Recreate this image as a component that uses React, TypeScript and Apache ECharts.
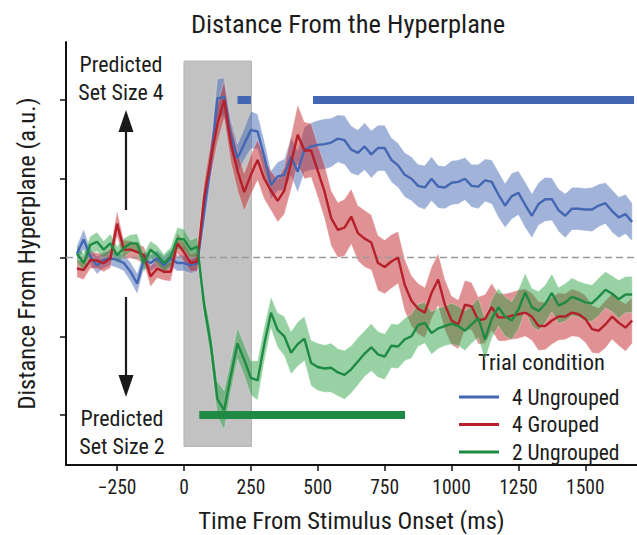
import React, { useEffect, useRef } from "react";
import * as echarts from "echarts";

// ---- data ----
const times = [
  -400, -375, -350, -325, -300, -275, -250, -225, -200, -175, -150, -125, -100, -75, -50, -25,
  0, 25, 50, 75, 100, 125, 150, 175, 200, 225, 250, 275, 300, 325, 350, 375,
  400, 425, 450, 475, 500, 525, 550, 575, 600, 625, 650, 675, 700, 725, 750, 775,
  800, 825, 850, 875, 900, 925, 950, 975, 1000, 1025, 1050, 1075, 1100, 1125, 1150, 1175,
  1200, 1225, 1250, 1275, 1300, 1325, 1350, 1375, 1400, 1425, 1450, 1475, 1500, 1525, 1550, 1575,
  1600, 1625, 1650, 1675,
];

const ungrouped4 = [
  0.05, 0.23, 0.01, -0.1, -0.03, -0.01, -0.03, -0.07, -0.18, -0.33, -0.03, -0.07, -0.01, -0.1, -0.01, -0.07,
  -0.07, -0.1, -0.07, 0.58, 1.2, 2.02, 2.04, 1.55, 1.26, 1.44, 1.62, 1.6, 1.28, 0.92, 1.03, 1.05,
  1.28, 1.09, 1.37, 1.41, 1.43, 1.44, 1.46, 1.51, 1.49, 1.37, 1.33, 1.41, 1.31, 1.39, 1.39, 1.24,
  1.17, 1.05, 1.0, 0.91, 0.89, 1.0, 0.9, 0.89, 0.95, 0.96, 1.0, 0.91, 0.9, 0.98, 0.96, 0.8,
  0.66, 0.78, 0.82, 0.67, 0.53, 0.68, 0.74, 0.74, 0.6, 0.53, 0.62, 0.62, 0.61, 0.61, 0.66, 0.69,
  0.59, 0.51, 0.55, 0.45,
];
const ungrouped4Err = [
  0.1, 0.13, 0.1, 0.11, 0.1, 0.09, 0.1, 0.1, 0.12, 0.13, 0.11, 0.1, 0.1, 0.11, 0.1, 0.1,
  0.1, 0.1, 0.11, 0.18, 0.22, 0.25, 0.24, 0.2, 0.18, 0.2, 0.24, 0.22, 0.2, 0.18, 0.18, 0.2,
  0.24, 0.26, 0.28, 0.3, 0.31, 0.32, 0.31, 0.3, 0.31, 0.3, 0.29, 0.3, 0.3, 0.29, 0.29, 0.28,
  0.28, 0.28, 0.28, 0.27, 0.28, 0.28, 0.27, 0.27, 0.28, 0.28, 0.27, 0.27, 0.28, 0.27, 0.28, 0.29,
  0.28, 0.29, 0.28, 0.29, 0.28, 0.27, 0.28, 0.27, 0.27, 0.28, 0.27, 0.27, 0.27, 0.28, 0.27, 0.26,
  0.27, 0.26, 0.25, 0.24,
];

const grouped4 = [
  -0.14, -0.16, -0.03, -0.04, -0.07, -0.01, 0.43, 0.1, 0.1, 0.07, 0.03, -0.24, -0.14, -0.18, -0.18, 0.18,
  0.07, -0.07, -0.05, 0.75, 1.25, 1.7, 2.0, 1.45, 1.1, 0.83, 1.05, 1.24, 1.0, 0.85, 0.72, 0.85,
  1.2, 1.56, 1.36, 1.36, 1.1, 0.84, 0.5, 0.35, 0.38, 0.52, 0.31, 0.24, 0.19, -0.07, -0.12, -0.05,
  0.0, -0.35, -0.55, -0.65, -0.7, -0.45, -0.28, -0.6, -0.8, -0.85, -0.6, -0.62, -0.8, -0.78, -0.63, -0.76,
  -0.76, -0.74, -0.72, -0.7, -0.75, -0.87, -0.87, -0.8, -0.75, -0.75, -0.7, -0.72, -0.78, -0.91, -0.93, -0.85,
  -0.75, -0.83, -0.89, -0.8,
];
const grouped4Err = [
  0.11, 0.12, 0.11, 0.1, 0.11, 0.12, 0.16, 0.12, 0.11, 0.1, 0.11, 0.13, 0.12, 0.11, 0.12, 0.13,
  0.12, 0.11, 0.12, 0.2, 0.22, 0.24, 0.24, 0.24, 0.25, 0.24, 0.25, 0.26, 0.26, 0.25, 0.27, 0.3,
  0.34, 0.38, 0.36, 0.34, 0.33, 0.34, 0.35, 0.35, 0.36, 0.35, 0.35, 0.36, 0.35, 0.35, 0.34, 0.34,
  0.33, 0.33, 0.32, 0.32, 0.32, 0.33, 0.33, 0.32, 0.31, 0.31, 0.31, 0.3, 0.3, 0.31, 0.3, 0.3,
  0.3, 0.3, 0.31, 0.3, 0.3, 0.31, 0.3, 0.3, 0.3, 0.29, 0.3, 0.29, 0.3, 0.3, 0.29, 0.3,
  0.29, 0.29, 0.3, 0.29,
];

const ungrouped2 = [
  0.05, -0.07, 0.16, 0.2, 0.1, 0.18, 0.03, 0.12, 0.18, 0.18, -0.07, 0.1, 0.03, -0.07, 0.01, 0.24,
  0.23, 0.1, 0.14, -0.6, -1.1, -1.8, -1.94, -1.5, -1.09, -1.3, -1.53, -1.56, -1.1, -0.7, -0.92, -1.0,
  -1.21, -1.1, -1.03, -1.34, -1.39, -1.41, -1.4, -1.46, -1.49, -1.42, -1.32, -1.22, -1.14, -1.23, -1.26, -1.12,
  -1.13, -1.04, -1.0, -0.86, -0.83, -0.96, -0.9, -0.87, -0.84, -0.87, -0.93, -0.85, -0.77, -1.04, -0.78, -0.63,
  -0.75, -0.8, -0.66, -0.44, -0.63, -0.68, -0.59, -0.45, -0.61, -0.57, -0.5, -0.53, -0.57, -0.58, -0.5, -0.41,
  -0.46, -0.53, -0.47, -0.47,
];
const ungrouped2Err = [
  0.11, 0.12, 0.11, 0.12, 0.11, 0.12, 0.11, 0.12, 0.11, 0.12, 0.12, 0.11, 0.12, 0.11, 0.12, 0.14,
  0.13, 0.12, 0.12, 0.15, 0.18, 0.22, 0.25, 0.2, 0.2, 0.2, 0.22, 0.25, 0.22, 0.2, 0.22, 0.25,
  0.27, 0.28, 0.28, 0.29, 0.3, 0.3, 0.31, 0.3, 0.31, 0.3, 0.3, 0.29, 0.3, 0.29, 0.29, 0.28,
  0.28, 0.27, 0.28, 0.27, 0.26, 0.27, 0.26, 0.25, 0.26, 0.25, 0.25, 0.24, 0.25, 0.26, 0.25, 0.24,
  0.25, 0.24, 0.25, 0.24, 0.24, 0.25, 0.24, 0.24, 0.23, 0.24, 0.24, 0.23, 0.24, 0.23, 0.24, 0.23,
  0.23, 0.24, 0.23, 0.23,
];

// significant time windows (ms) and the level where the bar is drawn
const sigUngrouped4 = [
  [200, 250],
  [482, 1682],
];
const sigUngrouped2 = [[57, 826]];
const sigLevelTop = 2;
const sigLevelBottom = -2;

// shaded stimulus window (ms) and its vertical extent
const stimWindow = [0, 252];
const stimExtent = [2.495, -2.4];

const xTicks = [-250, 0, 250, 500, 750, 1000, 1250, 1500];
const yTicks = [-2, -1, 0, 1, 2];
const xRange = [-441, 1693];
const yRange = [-2.635, 2.737];

const names = ["4 Ungrouped", "4 Grouped", "2 Ungrouped"];
const lineColors = ["#4467b3", "#b5202a", "#1f8a44"];
const bandColors = ["rgba(68,103,179,0.5)", "rgba(196,45,50,0.52)", "rgba(40,160,65,0.48)"];

const FONT = '"Liberation Sans Narrow", "Roboto Condensed", "DejaVu Sans Condensed", "Noto Sans", sans-serif';
const TEXT = "#1c1c1c";

function bandSeries(name: string, mean: number[], err: number[], color: string) {
  const data = times.map((t, i) => [t, mean[i] - err[i], mean[i] + err[i]]);
  return {
    name: name + " band",
    type: "custom",
    z: 2,
    silent: true,
    data,
    renderItem: (params: any, api: any) => {
      if (params.dataIndex !== 0) return null;
      const upper = data.map((d) => api.coord([d[0], d[2]]));
      const lower = data.map((d) => api.coord([d[0], d[1]])).reverse();
      return {
        type: "polygon",
        shape: { points: upper.concat(lower) },
        style: { fill: color, stroke: "rgba(255,255,255,0.35)", lineWidth: 0.8 },
      };
    },
  };
}

function lineSeries(name: string, mean: number[], color: string) {
  return {
    name,
    type: "line",
    z: 4,
    data: times.map((t, i) => [t, mean[i]]),
    showSymbol: false,
    symbol: "none",
    color,
    lineStyle: { color, width: 2.4 },
  };
}

function sigSeries(segs: number[][], level: number, color: string) {
  return {
    type: "lines",
    coordinateSystem: "cartesian2d",
    z: 5,
    silent: true,
    data: segs.map(([a, b]) => ({ coords: [[a, level], [b, level]] })),
    lineStyle: { color, width: 8, opacity: 1, cap: "butt" },
  };
}

export default function App() {
  const ref = useRef<HTMLDivElement>(null);
  useEffect(() => {
    if (!ref.current) return;
    const chart = echarts.init(ref.current, undefined, { renderer: "svg" });
    const option: any = {
      animation: false,
      backgroundColor: "#ffffff",
      textStyle: { fontFamily: FONT, color: TEXT },
      title: {
        text: "Distance From the Hyperplane",
        left: 343,
        textAlign: "center",
        top: 5,
        textStyle: { fontFamily: FONT, fontSize: 26.5, fontWeight: "normal", color: TEXT },
      },
      grid: { left: 66, right: 0, top: 42, bottom: 70, containLabel: false, outerBoundsMode: "none" },
      legend: {
        data: names,
        orient: "vertical",
        left: 454,
        top: 381,
        icon: "rect",
        itemWidth: 40,
        itemHeight: 3,
        itemGap: 5.5,
        textStyle: { fontFamily: FONT, fontSize: 21.5, color: TEXT, lineHeight: 22, padding: [0, 0, 0, 8] },
      },
      xAxis: {
        type: "value",
        min: xRange[0],
        max: xRange[1],
        axisLine: { show: true, onZero: false, lineStyle: { color: "#111", width: 2 } },
        axisTick: { show: true, customValues: xTicks, length: 6, lineStyle: { color: "#111", width: 1.5 } },
        axisLabel: {
          show: true,
          customValues: xTicks,
          fontFamily: FONT,
          fontSize: 19.5,
          color: TEXT,
          margin: 12,
          formatter: (v: number) => (v < 0 ? "\u2212" + Math.abs(v) : String(v)),
        },
        splitLine: { show: false },
        name: "Time From Stimulus Onset (ms)",
        nameLocation: "middle",
        nameGap: 43,
        nameTextStyle: { fontFamily: FONT, fontSize: 24.5, color: TEXT },
      },
      yAxis: {
        type: "value",
        min: yRange[0],
        max: yRange[1],
        axisLine: { show: true, onZero: false, lineStyle: { color: "#111", width: 2 } },
        axisTick: { show: true, customValues: yTicks, length: 6, lineStyle: { color: "#111", width: 1.5 } },
        axisLabel: { show: false },
        splitLine: { show: false },
        name: "Distance From Hyperplane (a.u.)",
        nameLocation: "middle",
        nameGap: 27,
        nameTextStyle: { fontFamily: FONT, fontSize: 24.5, color: TEXT },
      },
      graphic: [
        {
          type: "text",
          left: 478,
          top: 350,
          style: { text: "Trial condition", font: `22.5px ${FONT}`, fill: TEXT },
        },
        {
          type: "text",
          x: 121,
          y: 50,
          style: { text: "Predicted\nSet Size 4", font: `22px ${FONT}`, fill: TEXT, textAlign: "center", lineHeight: 28.5 },
        },
        {
          type: "text",
          x: 122,
          y: 404,
          style: { text: "Predicted\nSet Size 2", font: `22px ${FONT}`, fill: TEXT, textAlign: "center", lineHeight: 28.5 },
        },
        { type: "line", shape: { x1: 126, y1: 210, x2: 126, y2: 128 }, style: { stroke: "#1a1a1a", lineWidth: 2.2 } },
        { type: "polygon", shape: { points: [[126, 110], [118.5, 132], [133.5, 132]] }, style: { fill: "#1a1a1a" } },
        { type: "line", shape: { x1: 126, y1: 297, x2: 126, y2: 378 }, style: { stroke: "#1a1a1a", lineWidth: 2.2 } },
        { type: "polygon", shape: { points: [[126, 397], [118.5, 375], [133.5, 375]] }, style: { fill: "#1a1a1a" } },
      ],
      series: [
        {
          name: "stimulus",
          type: "custom",
          z: 1,
          silent: true,
          data: [[stimWindow[0], stimWindow[1], stimExtent[0], stimExtent[1]]],
          renderItem: (params: any, api: any) => {
            const p0 = api.coord([api.value(0), api.value(2)]);
            const p1 = api.coord([api.value(1), api.value(3)]);
            return {
              type: "rect",
              shape: { x: p0[0], y: p0[1], width: p1[0] - p0[0], height: p1[1] - p0[1] },
              style: { fill: "#c2c2c2", stroke: "#b4b4b4", lineWidth: 1 },
            };
          },
        },
        bandSeries(names[0], ungrouped4, ungrouped4Err, bandColors[0]),
        bandSeries(names[1], grouped4, grouped4Err, bandColors[1]),
        bandSeries(names[2], ungrouped2, ungrouped2Err, bandColors[2]),
        {
          name: "zero",
          type: "line",
          z: 3,
          silent: true,
          data: [[xRange[0], 0], [xRange[1], 0]],
          showSymbol: false,
          symbol: "none",
          lineStyle: { color: "#9a9a9a", width: 1.6, type: [7, 4] },
        },
        lineSeries(names[0], ungrouped4, lineColors[0]),
        lineSeries(names[1], grouped4, lineColors[1]),
        lineSeries(names[2], ungrouped2, lineColors[2]),
        sigSeries(sigUngrouped4, sigLevelTop, lineColors[0]),
        sigSeries(sigUngrouped2, sigLevelBottom, lineColors[2]),
      ],
    };
    chart.setOption(option);
    return () => chart.dispose();
  }, []);
  return (
    <div
      ref={ref}
      style={{ position: "fixed", left: 0, top: 0, width: 637, height: 535 }}
    />
  );
}
